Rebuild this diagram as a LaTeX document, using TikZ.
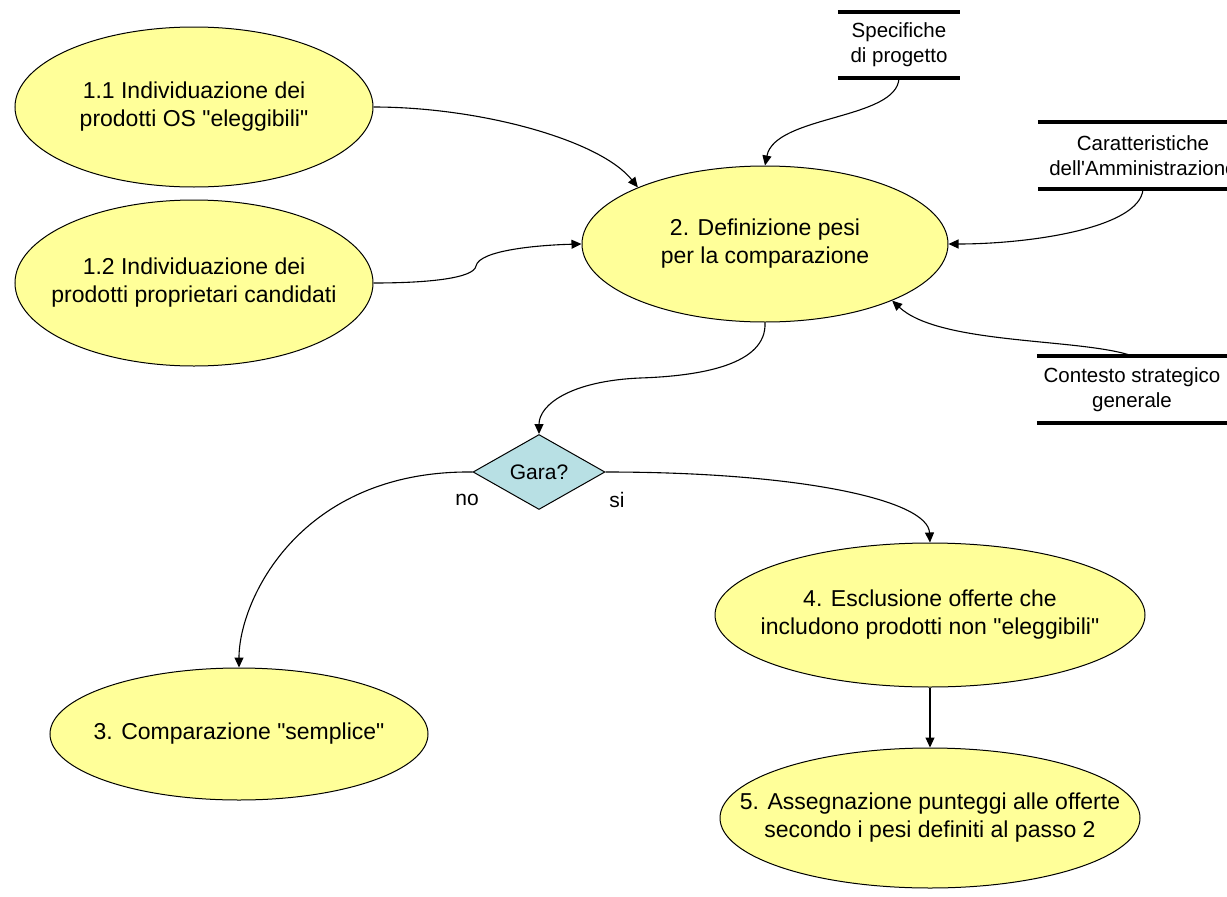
\documentclass[tikz,border=0pt]{standalone}
\usepackage{fontspec}
\setmainfont{Liberation Sans}
\usetikzlibrary{shapes.geometric,arrows.meta}
\definecolor{procfill}{HTML}{FFFF99}
\definecolor{decfill}{HTML}{B8E0E4}
\font\qfontA="Liberation Sans" at 23pt
\font\qfontB="Liberation Sans" at 20.5pt
\newcommand{\dq}{{\qfontA\char34}}
\newcommand{\sq}{{\qfontB\char39}}
\begin{document}
\begin{tikzpicture}[x=1pt,y=-1pt,
  proc/.style={ellipse, draw, line width=1pt, fill=procfill, inner sep=0pt},
  ptext/.style={font=\fontsize{23}{28}\selectfont, align=center},
  dec/.style={diamond, draw, line width=1pt, fill=decfill, inner sep=0pt},
  storebox/.style={inner sep=0pt, align=center, font=\fontsize{20.5}{25}\selectfont},
  storeline/.style={line width=3.5pt},
  flow/.style={line width=1.1pt, -{Triangle[length=10pt,width=9pt]}},
  lbl/.style={font=\fontsize{21}{25}\selectfont}]
\useasboundingbox (0,0) rectangle (1227,897);
\clip (0,0) rectangle (1227,897);
\fill[white] (0,0) rectangle (1227,897);

% processes
\node[proc, minimum width=358, minimum height=160,
  label={[ptext]center:1.1 Individuazione dei\\prodotti OS \dq eleggibili\dq}] (E11) at (194,107) {};
\node[proc, minimum width=358, minimum height=166,
  label={[ptext]center:1.2 Individuazione dei\\prodotti proprietari candidati}] (E12) at (194,283) {};
\node[proc, minimum width=366, minimum height=156,
  label={[ptext]center:2. Definizione pesi\\per la comparazione}] (E2) at (765,244) {};
\node[proc, minimum width=378, minimum height=132,
  label={[ptext]center:3. Comparazione \dq semplice\dq}] (E3) at (239,734) {};
\node[proc, minimum width=430, minimum height=144,
  label={[ptext]center:4. Esclusione offerte che\\includono prodotti non \dq eleggibili\dq}] (E4) at (930,615) {};
\node[proc, minimum width=420, minimum height=140,
  label={[ptext]center:5. Assegnazione punteggi alle offerte\\secondo i pesi definiti al passo 2}] (E5) at (930,818) {};

% decision
\node[dec, minimum width=132, minimum height=75,
  label={[font=\fontsize{21}{25}\selectfont]center:Gara?}] (D) at (539,472) {};
\node[lbl] (no) at (467,500) {no};
\node[lbl] (si) at (617,500) {si};

% data stores
\node[storebox, minimum width=122, minimum height=66] (S1) at (899,45) {Specifiche\\di progetto};
\node[storebox, minimum width=210, minimum height=67] (S2) at (1143,155.5) {Caratteristiche\\dell\sq Amministrazione};
\node[storebox, minimum width=190, minimum height=67] (S3) at (1132,389.5) {Contesto strategico\\generale};
\foreach \s in {S1,S2,S3}{
  \draw[storeline] (\s.north west) -- (\s.north east);
  \draw[storeline] (\s.south west) -- (\s.south east);
}

% connectors
\draw[flow] (E11.east) .. controls (480,107) and (600,140) .. (E2.156);
\draw[flow] (E12.east) .. controls (430,283) and (474,278) .. (476,266)
  .. controls (479,250) and (540,245) .. (E2.west);
\draw[flow] (S1.south) .. controls (897,120) and (775,115) .. (E2.north);
\draw[flow] (S2.south) .. controls (1140,228) and (1030,244) .. (E2.east);
\draw[flow] (S3.north) .. controls (1080,338) and (940,345) .. (E2.-24);
\draw[flow] (E2.south) .. controls (767,365) and (700,376) .. (640,378)
  .. controls (570,381) and (539,405) .. (D.north);
\draw[flow] (D.west) .. controls (300,470) and (239,600) .. (E3.north);
\draw[flow] (D.east) .. controls (800,472) and (928,500) .. (E4.north);
\draw[flow] (E4.south) -- (E5.north);
\end{tikzpicture}
\end{document}
